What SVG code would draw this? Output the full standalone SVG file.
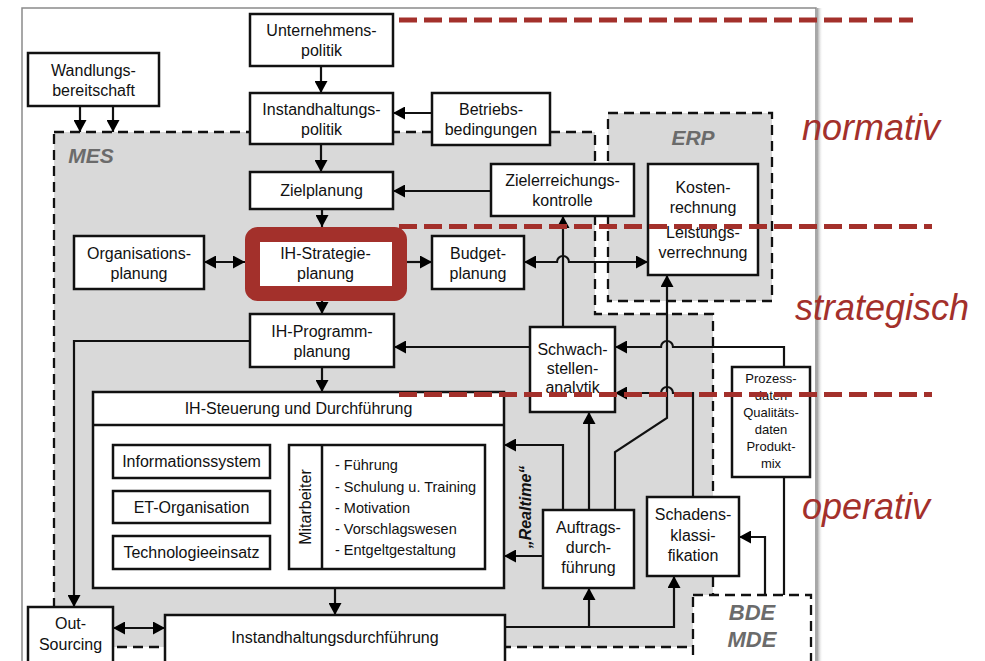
<svg xmlns="http://www.w3.org/2000/svg" width="985" height="661" viewBox="0 0 985 661">
<defs>
<marker id="arr" viewBox="0 0 12 13" refX="12" refY="6.5" markerWidth="12" markerHeight="13" markerUnits="userSpaceOnUse" orient="auto-start-reverse"><path d="M0,0 L12,6.5 L0,13 z" fill="#000"/></marker>
<linearGradient id="shadow" x1="0" y1="0" x2="1" y2="0"><stop offset="0" stop-color="#9a9a9a"/><stop offset="1" stop-color="#ffffff" stop-opacity="0"/></linearGradient>
<style>
.box{fill:#fff;stroke:#111;stroke-width:2.5}
.region{fill:#d9d9d9;stroke:#111;stroke-width:2.3;stroke-dasharray:10 6}
.t{font-family:"Liberation Sans",Arial,sans-serif;font-size:16px;fill:#111;text-anchor:middle}
.s{font-size:13px}
.l{font-size:14.5px;text-anchor:start}
.rl{font-family:"Liberation Sans",Arial,sans-serif;font-weight:bold;font-style:italic;fill:#6b6b6b;text-anchor:middle}
.c{fill:none;stroke:#111;stroke-width:2.2}
.a{marker-end:url(#arr)}
.d{marker-start:url(#arr);marker-end:url(#arr)}
.lvl{font-family:"Liberation Sans",Arial,sans-serif;font-style:italic;font-size:36px;fill:#a3302b}
.red{stroke:#a3302b;stroke-width:5;stroke-dasharray:18 7;fill:none}
</style>
</defs>
<rect x="0" y="0" width="985" height="661" fill="#fff"/>
<g id="frame">
<rect x="817" y="8" width="6" height="653" fill="url(#shadow)"/>
<rect x="22" y="8" width="794" height="660" fill="none" stroke="#8a8a8a" stroke-width="1.5"/>
</g>
<g id="regions">
<path class="region" d="M54,132 H595 V314 H713 V647 H54 Z"/>
<text class="rl" x="91" y="163" font-size="21">MES</text>
<rect class="region" x="608" y="113" width="164" height="188"/>
<text class="rl" x="693" y="145" font-size="21">ERP</text>
</g>
<g id="connectors">
<path class="c a" d="M321,66 V93"/>
<path class="c a" d="M80,106 V132"/>
<path class="c a" d="M113,106 V132"/>
<path class="c a" d="M321,144 V172"/>
<path class="c a" d="M432,113 H393"/>
<path class="c a" d="M491,191 H393"/>
<path class="c a" d="M322,209 V227"/>
<path class="c d" d="M204,262 H245"/>
<path class="c a" d="M407,262 H432"/>
<path class="c d" d="M524,262 H557 A6,6 0 0 1 569,262 H648"/>
<path class="c a" d="M563,327 V216"/>
<path class="c a" d="M322,301 V314"/>
<path class="c a" d="M322,367 V392"/>
<path class="c a" d="M250,341 H74 V607"/>
<path class="c a" d="M530,347 H394"/>
<path class="c a" d="M784,367 V347 H673 A6,6 0 0 0 661,347 H615"/>
<path class="c a" d="M693,497 V393 H673 A6,6 0 0 0 661,393 H615"/>
<path class="c a" d="M615,510 V452 L667,418 V275"/>
<path class="c a" d="M589,510 V412"/>
<path class="c a" d="M563,510 V445 H504"/>
<path class="c a" d="M543,556 H504"/>
<path class="c a" d="M335,588 V615"/>
<path class="c d" d="M113,628 H165"/>
<path class="c a" d="M505,627 H674 V576"/>
<path class="c a" d="M589,627 V588"/>
<path class="c a" d="M765,595 V537 H739"/>
<path class="c" d="M784,595 V477"/>
</g>
<g id="unternehmenspolitik"><rect class="box" x="250" y="14" width="143" height="52"/><text class="t" x="321.5" y="36">Unternehmens-</text><text class="t" x="321.5" y="56">politik</text></g>
<g id="wandlungsbereitschaft"><rect class="box" x="28" y="53" width="131" height="53"/><text class="t" x="93.5" y="75.5">Wandlungs-</text><text class="t" x="93.5" y="95.5">bereitschaft</text></g>
<g id="instandhaltungspolitik"><rect class="box" x="250" y="93" width="143" height="51"/><text class="t" x="321.5" y="114.5">Instandhaltungs-</text><text class="t" x="321.5" y="134.5">politik</text></g>
<g id="betriebsbedingungen"><rect class="box" x="432" y="93" width="118" height="52"/><text class="t" x="491" y="115">Betriebs-</text><text class="t" x="491" y="135">bedingungen</text></g>
<g id="zielplanung"><rect class="box" x="250" y="172" width="143" height="37"/><text class="t" x="321.5" y="196">Zielplanung</text></g>
<g id="zielerreichungskontrolle"><rect class="box" x="491" y="164" width="143" height="52"/><text class="t" x="562.5" y="186">Zielerreichungs-</text><text class="t" x="562.5" y="206">kontrolle</text></g>
<g id="kostenrechnung"><rect class="box" x="648" y="164" width="110" height="111"/><text class="t" x="703" y="193">Kosten-</text><text class="t" x="703" y="213">rechnung</text><text class="t" x="703" y="238">Leistungs-</text><text class="t" x="703" y="258">verrechnung</text></g>
<g id="organisationsplanung"><rect class="box" x="74" y="236" width="130" height="53"/><text class="t" x="139" y="258.5">Organisations-</text><text class="t" x="139" y="278.5">planung</text></g>
<g id="ih-strategieplanung"><rect x="252.5" y="234.5" width="147" height="59" rx="5" fill="#fff" stroke="#a3302b" stroke-width="15"/><text class="t" x="325.5" y="259">IH-Strategie-</text><text class="t" x="325.5" y="279">planung</text></g>
<g id="budgetplanung"><rect class="box" x="432" y="236" width="92" height="53"/><text class="t" x="478" y="258.5">Budget-</text><text class="t" x="478" y="278.5">planung</text></g>
<g id="ih-programmplanung"><rect class="box" x="250" y="314" width="144" height="53"/><text class="t" x="322" y="336.5">IH-Programm-</text><text class="t" x="322" y="356.5">planung</text></g>
<g id="schwachstellenanalytik"><rect class="box" x="530" y="327" width="85" height="85"/><text class="t" x="572.5" y="355">Schwach-</text><text class="t" x="572.5" y="374">stellen-</text><text class="t" x="572.5" y="393">analytik</text></g>
<g id="prozessdaten"><rect class="box" x="732" y="367" width="78" height="110"/><text class="t s" x="771" y="383">Prozess-</text><text class="t s" x="771" y="400">daten</text><text class="t s" x="771" y="417">Qualitäts-</text><text class="t s" x="771" y="434">daten</text><text class="t s" x="771" y="451">Produkt-</text><text class="t s" x="771" y="468">mix</text></g>
<g id="ih-steuerung"><rect class="box" x="93" y="392" width="411" height="196"/><line x1="93" y1="425" x2="504" y2="425" stroke="#111" stroke-width="2.5"/><text class="t" x="298.5" y="414">IH-Steuerung und Durchführung</text></g>
<g id="informationssystem"><rect class="box" x="113" y="445" width="157" height="33"/><text class="t" x="191.5" y="467">Informationssystem</text></g>
<g id="et-organisation"><rect class="box" x="113" y="491" width="157" height="32"/><text class="t" x="191.5" y="512.5">ET-Organisation</text></g>
<g id="technologieeinsatz"><rect class="box" x="113" y="536" width="157" height="33"/><text class="t" x="191.5" y="558">Technologieeinsatz</text></g>
<g id="mitarbeiter"><rect class="box" x="289" y="445" width="196" height="124"/><line x1="322" y1="445" x2="322" y2="569" stroke="#111" stroke-width="2.5"/><text class="t" x="0" y="0" transform="translate(311,507) rotate(-90)" font-size="15.5">Mitarbeiter</text><text class="t l" x="335" y="470">- Führung</text><text class="t l" x="335" y="492">- Schulung u. Training</text><text class="t l" x="335" y="513">- Motivation</text><text class="t l" x="335" y="534">- Vorschlagswesen</text><text class="t l" x="335" y="555">- Entgeltgestaltung</text></g>
<g id="realtime-label"><text class="t" x="0" y="0" transform="translate(531,507) rotate(-90)" font-style="italic" font-weight="bold" font-size="16">„Realtime“</text></g>
<g id="auftragsdurchfuehrung"><rect class="box" x="543" y="510" width="91" height="78"/><text class="t" x="588.5" y="533">Auftrags-</text><text class="t" x="588.5" y="553">durch-</text><text class="t" x="588.5" y="573">führung</text></g>
<g id="schadensklassifikation"><rect class="box" x="647" y="497" width="92" height="79"/><text class="t" x="693" y="520">Schadens-</text><text class="t" x="693" y="541">klassi-</text><text class="t" x="693" y="561">fikation</text></g>
<g id="outsourcing"><rect class="box" x="28" y="607" width="85" height="60"/><text class="t" x="70.5" y="629">Out-</text><text class="t" x="70.5" y="650">Sourcing</text></g>
<g id="instandhaltungsdurchfuehrung"><rect class="box" x="165" y="615" width="340" height="52"/><text class="t" x="335" y="643">Instandhaltungsdurchführung</text></g>
<g id="bde-mde"><rect x="693" y="595" width="118" height="72" fill="#fff" stroke="#111" stroke-width="2.3" stroke-dasharray="10 6"/><text class="rl" x="752" y="620" font-size="22">BDE</text><text class="rl" x="752" y="647" font-size="22">MDE</text></g>
<g id="levels">
<path class="red" d="M399,20 H913"/>
<path class="red" d="M399,226.5 H932"/>
<path class="red" d="M399,394.5 H932"/>
<text class="lvl" x="802" y="140">normativ</text>
<text class="lvl" x="795" y="320">strategisch</text>
<text class="lvl" x="802" y="519">operativ</text>
</g>
</svg>
